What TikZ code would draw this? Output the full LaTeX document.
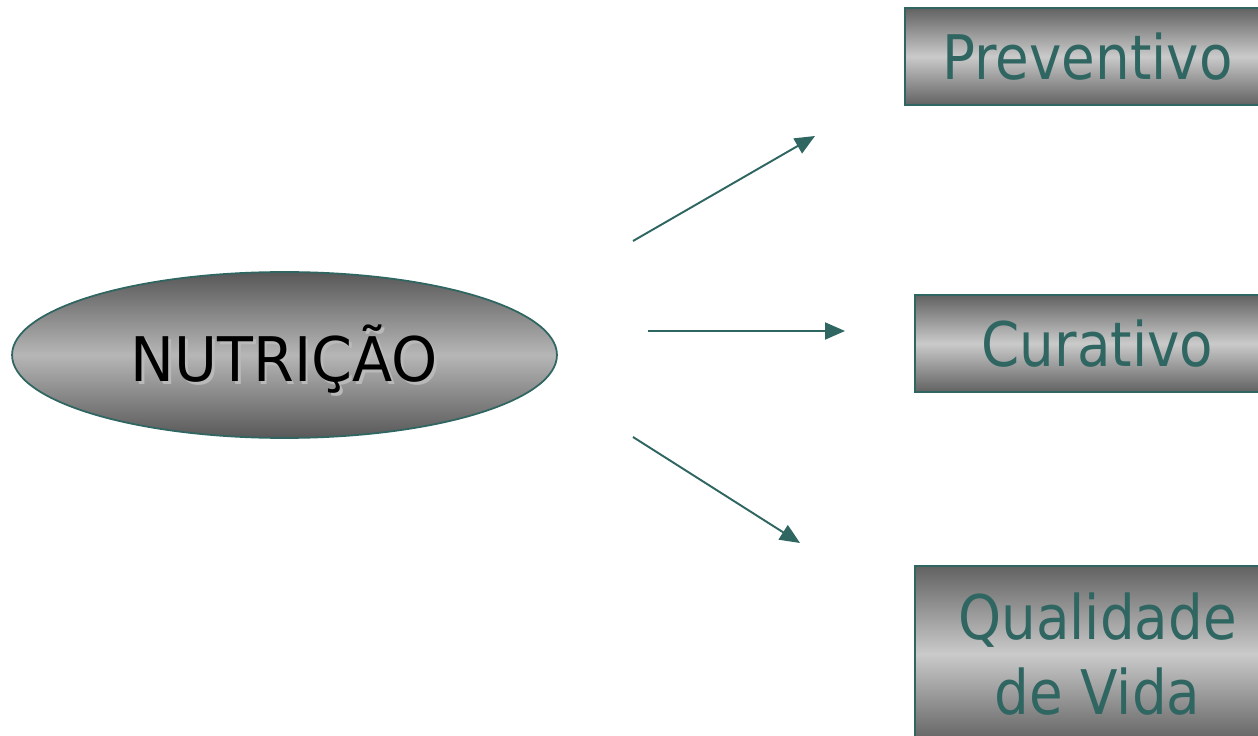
\documentclass[tikz,border=0pt]{standalone}
\usepackage{fontspec}
\setmainfont{DejaVu Sans}[FakeStretch=0.89]
\newfontfamily\nutfont{DejaVu Sans}[FakeStretch=0.955]
\usetikzlibrary{arrows.meta,shapes.geometric}
\definecolor{teal}{RGB}{47,102,97}
\definecolor{shadowgray}{RGB}{185,185,185}
\definecolor{dark}{RGB}{98,98,98}
\definecolor{light}{RGB}{202,202,202}
\definecolor{edark}{RGB}{88,88,88}
\definecolor{elight}{RGB}{182,182,182}
\tikzset{
  greybox/.style={draw=teal, line width=1.1pt, rectangle, minimum width=7.3cm,
    inner sep=0pt, top color=dark, bottom color=dark, middle color=light,
    text=teal, font=\fontsize{35}{43}\selectfont, align=center},
  oval/.style={draw=teal, line width=1pt, ellipse, minimum width=10.9cm, minimum height=3.32cm,
    inner sep=0pt, top color=edark, bottom color=edark, middle color=elight,
    text=black, font=\nutfont\fontsize{35}{43}\selectfont},
  link/.style={draw=teal, line width=1.1pt, -{Triangle[length=0.4cm,width=0.34cm]}}
}
\begin{document}
\begin{tikzpicture}[x=0.02cm,y=-0.02cm]
\clip (0,0) rectangle (1258,736);
\fill[white] (0,0) rectangle (1258,736);
\node[oval] (nut) at (284.5,355) {\raisebox{-3.2pt}[\height][\depth]{\makebox[0pt][l]{\raisebox{-1.2pt}{\hspace{1.3pt}\textcolor{shadowgray}{NUTRIÇÃO}}}NUTRIÇÃO}};
\node[greybox, minimum height=1.94cm] (prev) at (1087.5,56.5) {Preventivo};
\node[greybox, minimum height=1.94cm] (cur) at (1097.5,343.5) {Curativo};
\node[greybox, minimum height=3.52cm] (qual) at (1097.5,654) {Qualidade\\de Vida};
\coordinate (a1s) at (633,241);
\coordinate (a1e) at (815,136);
\coordinate (a2s) at (648,331);
\coordinate (a2e) at (845,331);
\coordinate (a3s) at (633,437);
\coordinate (a3e) at (800,543);
\draw[link] (a1s) -- (a1e);
\draw[link] (a2s) -- (a2e);
\draw[link] (a3s) -- (a3e);
\end{tikzpicture}
\end{document}
